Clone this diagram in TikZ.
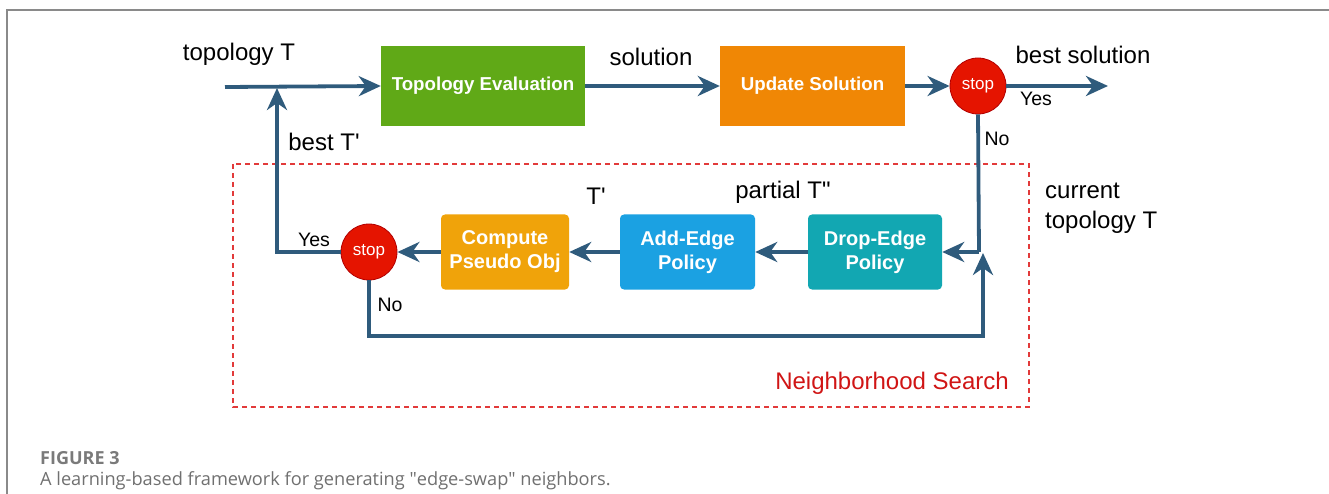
\documentclass[tikz,border=0pt]{standalone}
\usepackage{fontspec}
\setmainfont{Liberation Sans}
\newfontfamily\capfont{Open Sans}
\usetikzlibrary{arrows.meta}
\definecolor{conn}{HTML}{2F5B7C}
\definecolor{cgreen}{HTML}{60A917}
\definecolor{corange}{HTML}{F08705}
\definecolor{camber}{HTML}{F0A30A}
\definecolor{cblue}{HTML}{1BA1E2}
\definecolor{cteal}{HTML}{12A7B2}
\definecolor{cred}{HTML}{E51400}
\definecolor{cdred}{HTML}{B20000}
\definecolor{nsred}{HTML}{D01515}
\definecolor{dashred}{HTML}{E23A3A}
\definecolor{framec}{HTML}{8A8A8A}
\definecolor{capc}{HTML}{707070}
\definecolor{figc}{HTML}{7A7A7A}
\tikzset{
  flowbox/.style={rectangle, text=white, inner sep=0pt, align=center,
    font=\bfseries\fontsize{18.7}{23}\selectfont},
  lowbox/.style={flowbox, rounded corners=4pt, minimum width=134pt, minimum height=75pt,
    font=\bfseries\fontsize{20}{24}\selectfont},
  stopc/.style={circle, fill=cred, draw=cdred, line width=0.8pt, minimum size=56pt,
    inner sep=0pt, text=white, font=\fontsize{17}{20}\selectfont},
  line/.style={draw=conn, line width=3.8pt, line join=miter},
  arr/.style={line, -{Stealth[length=22pt,width=20pt,inset=7pt]}},
  lab/.style={inner sep=0pt, font=\fontsize{24}{29}\selectfont},
  slab/.style={inner sep=0pt, font=\fontsize{19.5}{23}\selectfont},
}
\begin{document}
\begin{tikzpicture}[x=1pt,y=-1pt]
\useasboundingbox (0,0) rectangle (1329,494);
\draw[framec, line width=2pt] (7,494) -- (7,10) -- (1330,10);

% top row
\node[flowbox, fill=cgreen, minimum width=204pt, minimum height=80pt] (eval) at (483,86) {Topology Evaluation};
\node[flowbox, fill=corange, minimum width=185pt, minimum height=80pt] (upd) at (812.5,86) {Update Solution};
\node[stopc] (stop1) at (978,86) {stop};
\coordinate (in) at (225,87);
\coordinate (out) at (1108,86);
\coordinate (j1) at (277,88);

\node[lab] (ltop) at (239,54) {topology T};
\node[lab] (lsol) at (651,57) {solution};
\node[lab] (lbest) at (1083,55) {best solution};
\node[slab] (lyes1) at (1036,99) {Yes};
\node[slab] (lno1) at (997,139) {No};
\node[lab] (lbt) at (324,142) {best T\textquotesingle};

% neighborhood search
\draw[dashred, line width=1.3pt, dash pattern=on 5pt off 4pt] (233,164) rectangle (1029,407);
\node[inner sep=0pt, text=nsred, font=\fontsize{24}{28}\selectfont] (lns) at (892,383) {Neighborhood Search};
\node[lab, anchor=north west, align=left, font=\fontsize{24}{30}\selectfont] (lcur) at (1045,183) {current\\topology T};

\node[lowbox, fill=cteal] (drop) at (875,252) {Drop-Edge\\Policy};
\node[lowbox, fill=cblue, minimum width=135pt] (add) at (687.5,252) {Add-Edge\\Policy};
\node[lowbox, fill=camber, minimum width=128pt] (comp) at (505,252) {Compute\\Pseudo Obj};
\node[stopc] (stop2) at (369,252) {stop};

\node[lab] (ltp) at (596,196) {T\textquotesingle};
\node[lab] (lpart) at (783,192) {partial T\textquotedbl};
\node[slab] (lyes2) at (314,240) {Yes};
\node[slab] (lno2) at (390,305) {No};

\coordinate (r1) at (979,252);
\coordinate (l1) at (277,252);
\coordinate (b1) at (369,336);
\coordinate (b2) at (983,336);
\coordinate (upend) at (983,253);

% connectors
\draw[arr] (in) -- (eval.west);
\draw[arr] (eval) -- (upd);
\draw[arr] (upd) -- (stop1);
\draw[arr] (stop1) -- (out);
\draw[line] (stop1.south) -- (r1);
\draw[arr] (r1) -- (drop.east);
\draw[arr] (drop) -- (add);
\draw[arr] (add) -- (comp);
\draw[arr] (comp) -- (stop2);
\draw[arr] (stop2.west) -- (l1) -- (j1);
\draw[arr] (stop2.south) -- (b1) -- (b2) -- (upend);

% caption
\node[anchor=west, inner sep=0pt, text=figc, font=\capfont\bfseries\fontsize{18}{21}\selectfont] (fig) at (40,458) {FIGURE 3};
\node[anchor=west, inner sep=0pt, text=capc, font=\capfont\fontsize{18.2}{21}\selectfont] (cap) at (40,481) {A learning-based framework for generating \textquotedbl edge-swap\textquotedbl{} neighbors.};
\end{tikzpicture}
\end{document}
